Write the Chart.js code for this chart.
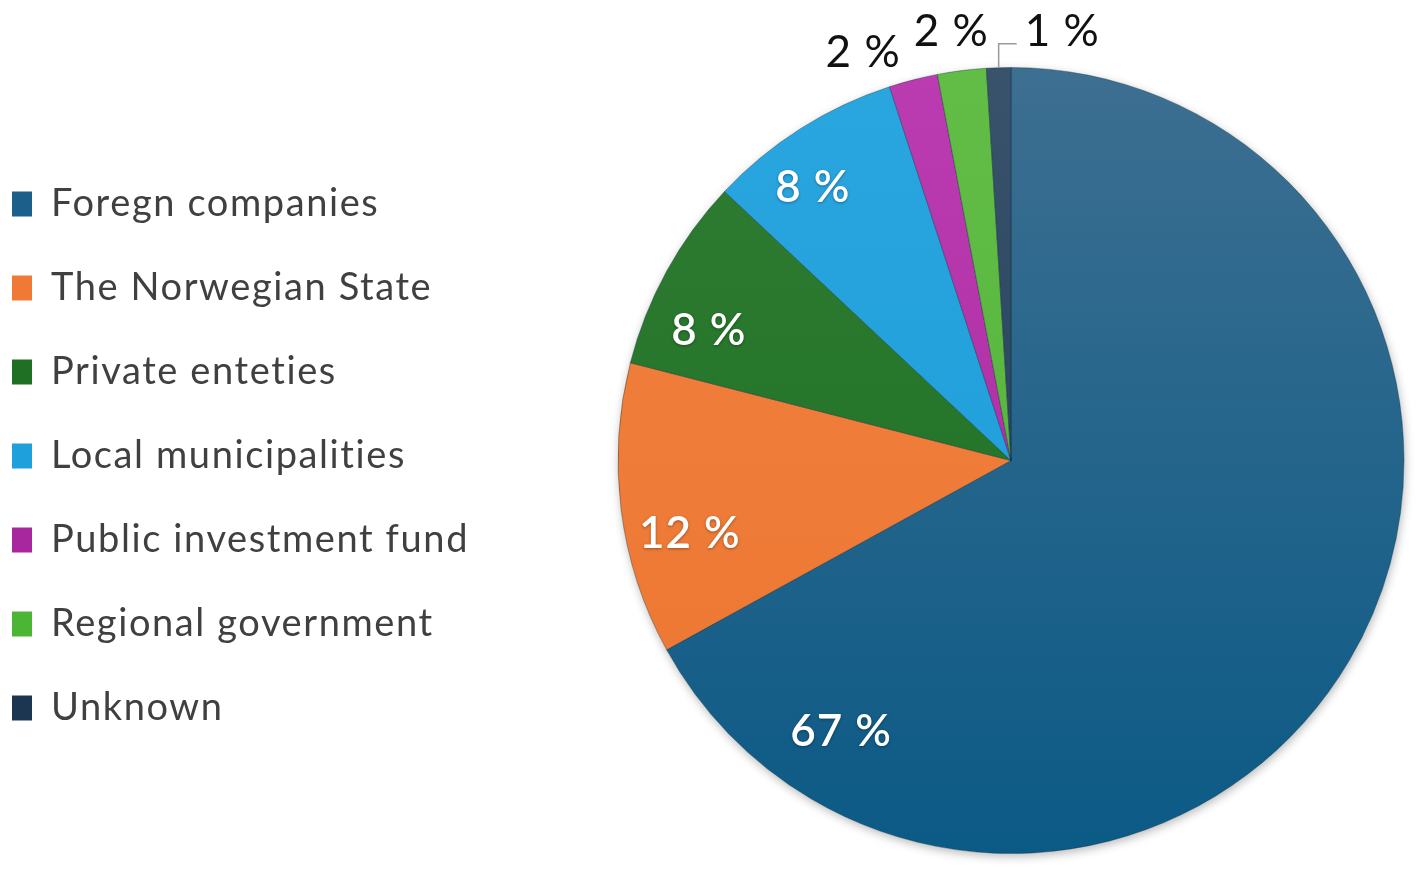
<!DOCTYPE html>
<html>
<head>
<meta charset="utf-8">
<script src="https://cdn.jsdelivr.net/npm/chart.js@4.4.1/dist/chart.umd.min.js"></script>
<style>
  html, body { margin: 0; padding: 0; background: #ffffff; overflow: hidden; width: 1417px; height: 871px; }
  #wrap { width: 1600px; height: 871px; position: relative; }
</style>
</head>
<body>
<div id="wrap"><canvas id="chart"></canvas></div>
<script>
// ---- data ----
const categories = [
  "Foregn companies",
  "The Norwegian State",
  "Private enteties",
  "Local municipalities",
  "Public investment fund",
  "Regional government",
  "Unknown"
];
const shares = [67, 12, 8, 8, 2, 2, 1];
const shareLabels = ["67 %", "12 %", "8 %", "8 %", "2 %", "2 %", "1 %"];

// ---- styles ----
const colorTop    = ["#3d6f91", "#f1813f", "#2f7d33", "#2aa6df", "#bb3cb0", "#62bd47", "#39536d"];
const colorBottom = ["#0b5a86", "#ec7631", "#1b6d22", "#1a9bd8", "#a8259f", "#4fb236", "#1d3953"];
const legendColors = ["#1b5f8a", "#f07a35", "#1f6f25", "#1ea0dc", "#a8279f", "#4db535", "#1c3550"];

const LEGEND_SPACING = "1.6px";
const LABEL_SPACING = "1px";
const labelPlacement = [
  { f: 0.880, rf: 0.810, inside: true },
  { f: 0.377, rf: 0.837, inside: true },
  { f: 0.314, rf: 0.838, inside: true },
  { f: 0.382, rf: 0.862, inside: true },
  { f: -0.26, rf: 1.107 },
  { f: 0.40,  rf: 1.105 },
  { f: 0.5, leader: { up: 24, right: 18, gap: 8, lift: 14 } }
];
const insideFont = { size: 44, weight: "600", color: "#ffffff" };
const outsideFont = { size: 44, weight: "400", color: "#111111" };
const FAMILY = "Lato, 'Noto Sans', sans-serif";

function sliceFill(ctx) {
  const i = ctx.dataIndex;
  const chart = ctx.chart;
  const area = chart.chartArea;
  if (!area) return colorBottom[i];
  const cy = (area.top + area.bottom) / 2;
  const r = ctx.dataset.radius;
  const g = chart.ctx.createLinearGradient(0, cy - r, 0, cy + r);
  g.addColorStop(0, colorTop[i]);
  g.addColorStop(1, colorBottom[i]);
  return g;
}

const spacingPlugin = {
  id: "spacing",
  beforeLayout(chart) { chart.ctx.letterSpacing = LEGEND_SPACING; },
  beforeDraw(chart) { chart.ctx.letterSpacing = LEGEND_SPACING; }
};

const shadowPlugin = {
  id: "pieShadow",
  beforeDatasetsDraw(chart) {
    const arc = chart.getDatasetMeta(0).data[0];
    if (!arc) return;
    const { x, y, outerRadius } = arc.getProps(["x", "y", "outerRadius"], true);
    const c = chart.ctx;
    c.save();
    c.shadowColor = "rgba(0,0,0,0.28)";
    c.shadowBlur = 10;
    c.shadowOffsetX = 1;
    c.shadowOffsetY = 3;
    c.fillStyle = "#ffffff";
    c.beginPath();
    c.arc(x, y, outerRadius, 0, Math.PI * 2);
    c.fill();
    c.restore();
  }
};

const labelPlugin = {
  id: "sliceLabels",
  afterDatasetsDraw(chart) {
    const meta = chart.getDatasetMeta(0);
    const c = chart.ctx;
    meta.data.forEach((arc, i) => {
      const p = labelPlacement[i];
      const { x, y, startAngle, endAngle, outerRadius } =
        arc.getProps(["x", "y", "startAngle", "endAngle", "outerRadius"], true);
      const a = startAngle + p.f * (endAngle - startAngle);
      const st = p.inside ? insideFont : outsideFont;
      c.save();
      c.letterSpacing = LABEL_SPACING;
      c.font = st.weight + " " + st.size + "px " + FAMILY;
      c.fillStyle = st.color;
      c.textBaseline = "alphabetic";
      const capHalf = st.size * 0.36;
      if (p.leader) {
        const x0 = x + outerRadius * Math.cos(a);
        const y0 = y + outerRadius * Math.sin(a);
        const y1 = y0 - p.leader.up;
        const x2 = x0 + p.leader.right;
        c.strokeStyle = "#9a9a9a";
        c.lineWidth = 1.5;
        c.beginPath();
        c.moveTo(x0, y0);
        c.lineTo(x0, y1);
        c.lineTo(x2, y1);
        c.stroke();
        c.textAlign = "left";
        c.fillText(shareLabels[i], x2 + p.leader.gap, y1 - p.leader.lift + capHalf);
      } else {
        const tx = x + p.rf * outerRadius * Math.cos(a);
        const ty = y + p.rf * outerRadius * Math.sin(a);
        c.textAlign = "center";
        if (p.inside) {
          c.shadowColor = "rgba(0,0,0,0.35)";
          c.shadowBlur = 3;
          c.shadowOffsetY = 1;
        }
        c.fillText(shareLabels[i], tx, ty + capHalf);
      }
      c.restore();
    });
  }
};

new Chart(document.getElementById("chart"), {
  type: "pie",
  data: {
    labels: categories,
    datasets: [{
      data: shares,
      backgroundColor: sliceFill,
      borderColor: "rgba(0,35,45,0.35)",
      borderWidth: 1,
      radius: 393,
      clip: false,
      hoverOffset: 0
    }]
  },
  options: {
    responsive: true,
    maintainAspectRatio: false,
    animation: false,
    events: [],
    layout: { padding: { left: -34, right: 57, top: 139, bottom: 89 } },
    plugins: {
      tooltip: { enabled: false },
      legend: {
        position: "left",
        align: "start",
        labels: {
          boxWidth: 20,
          boxHeight: 25,
          padding: 46,
          color: "#404040",
          font: { family: FAMILY, size: 38, weight: "400" },
          generateLabels(chart) {
            const items = Chart.overrides.pie.plugins.legend.labels.generateLabels(chart);
            return items.map((it, i) => Object.assign({}, it, {
              fillStyle: legendColors[i],
              strokeStyle: legendColors[i],
              lineWidth: 0,
              fontColor: "#404040"
            }));
          }
        }
      }
    }
  },
  plugins: [spacingPlugin, shadowPlugin, labelPlugin]
});
</script>
</body>
</html>
